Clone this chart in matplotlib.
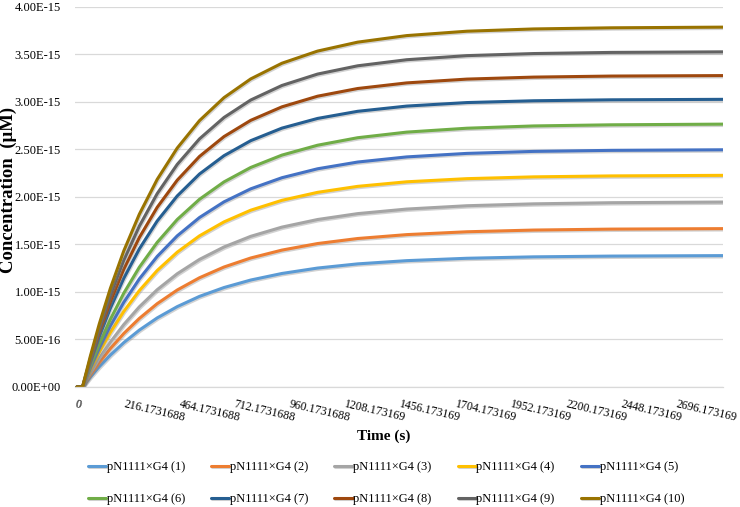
import matplotlib
matplotlib.use('Agg')
import matplotlib.pyplot as plt
import matplotlib.ticker as mtick
import matplotlib.patheffects as pe

plt.rcParams['font.family'] = ['Liberation Serif', 'DejaVu Serif']

# time points (s)
t = [0, 25, 60, 100, 150, 210, 280, 360, 450, 550, 660, 780, 920, 1080,
     1260, 1480, 1750, 2050, 2400, 2900]

# concentration, units of 1E-15 uM
s1 = [0, 0, 0.104, 0.213, 0.336, 0.467, 0.599, 0.727, 0.846, 0.954, 1.047,
      1.126, 1.195, 1.252, 1.296, 1.330, 1.355, 1.370, 1.378, 1.383]
s2 = [0, 0, 0.125, 0.256, 0.405, 0.563, 0.722, 0.877, 1.021, 1.150, 1.263,
      1.358, 1.441, 1.510, 1.563, 1.604, 1.634, 1.652, 1.662, 1.667]
s3 = [0, 0, 0.146, 0.299, 0.473, 0.657, 0.844, 1.024, 1.192, 1.343, 1.474,
      1.586, 1.683, 1.763, 1.825, 1.873, 1.908, 1.928, 1.940, 1.947]
s4 = [0, 0, 0.178, 0.365, 0.574, 0.795, 1.015, 1.226, 1.419, 1.591, 1.738,
      1.861, 1.965, 2.049, 2.112, 2.160, 2.193, 2.212, 2.222, 2.228]
s5 = [0, 0, 0.200, 0.409, 0.644, 0.891, 1.138, 1.374, 1.591, 1.784, 1.949,
      2.086, 2.203, 2.297, 2.368, 2.422, 2.459, 2.480, 2.491, 2.497]
s6 = [0, 0, 0.222, 0.453, 0.713, 0.987, 1.261, 1.522, 1.763, 1.976, 2.159,
      2.311, 2.441, 2.545, 2.624, 2.683, 2.724, 2.748, 2.760, 2.767]
s7 = [0, 0, 0.260, 0.530, 0.831, 1.144, 1.454, 1.747, 2.011, 2.242, 2.435,
      2.593, 2.725, 2.827, 2.902, 2.957, 2.994, 3.013, 3.023, 3.028]
s8 = [0, 0, 0.281, 0.574, 0.899, 1.239, 1.574, 1.891, 2.177, 2.427, 2.636,
      2.807, 2.949, 3.061, 3.142, 3.201, 3.241, 3.262, 3.273, 3.278]
s9 = [0, 0, 0.303, 0.617, 0.968, 1.333, 1.694, 2.035, 2.343, 2.612, 2.837,
      3.021, 3.174, 3.294, 3.381, 3.445, 3.488, 3.510, 3.522, 3.528]
s10 = [0, 0, 0.325, 0.663, 1.039, 1.432, 1.819, 2.185, 2.515, 2.804, 3.046,
       3.243, 3.408, 3.536, 3.630, 3.699, 3.745, 3.769, 3.781, 3.788]

series = [s1, s2, s3, s4, s5, s6, s7, s8, s9, s10]
names = ['pN1111\u00d7G4 (%d)' % i for i in range(1, 11)]
colors = ['#5B9BD5', '#ED7D31', '#A5A5A5', '#FFC000', '#4472C4',
          '#70AD47', '#255E91', '#9E480E', '#636363', '#997300']

xticks = [0, 216.1731688, 464.1731688, 712.1731688, 960.1731688,
          1208.173169, 1456.173169, 1704.173169, 1952.173169,
          2200.173169, 2448.173169, 2696.173169]
xlabels = ['0', '216.1731688', '464.1731688', '712.1731688', '960.1731688',
           '1208.173169', '1456.173169', '1704.173169', '1952.173169',
           '2200.173169', '2448.173169', '2696.173169']

fig = plt.figure(figsize=(7.4, 5.07), dpi=100)
ax = fig.add_axes([0.101, 0.2367, 0.876, 0.7495])

shadow = [pe.SimpleLineShadow(offset=(0.6, -1.0), shadow_color='#808080', alpha=0.35),
          pe.Normal()]
lines = []
for s, c, n in zip(series, colors, names):
    ln, = ax.plot(t, [v * 1e-15 for v in s], color=c, lw=2.2, label=n,
                  solid_capstyle='round', path_effects=shadow)
    lines.append(ln)

ax.set_xlim(-10, 2900)
ax.set_ylim(0, 4e-15)
ax.set_yticks([i * 0.5e-15 for i in range(9)])
ax.yaxis.set_major_formatter(mtick.FuncFormatter(lambda v, p: '%.2E' % v))
ax.grid(axis='y', color='#D9D9D9', lw=0.9)
ax.set_axisbelow(True)
for sp in ['top', 'right', 'left']:
    ax.spines[sp].set_visible(False)
ax.spines['bottom'].set_color('#D9D9D9')
ax.spines['bottom'].set_linewidth(0.9)
ax.tick_params(axis='y', length=0, labelsize=9, pad=10)
ax.tick_params(axis='x', length=0, labelsize=8.6, pad=8)

ax.set_xticks(xticks)
ax.set_xticklabels(xlabels, rotation=-13, ha='left', va='top',
                   rotation_mode='anchor')

fig.text(384 / 740, 1 - 436 / 507, 'Time (s)', ha='center', va='center',
         fontsize=11, fontweight='bold')
fig.text(8.5 / 740, 1 - 190 / 507, 'Concentration  (\u03bcM)', ha='center',
         va='center', rotation=90, fontsize=13.5, fontweight='bold')

# legend: row-major order for 2 rows x 5 columns
order = [0, 5, 1, 6, 2, 7, 3, 8, 4, 9]
fig.legend([lines[i] for i in order], [names[i] for i in order],
           loc='center', bbox_to_anchor=(386 / 740, 1 - 483 / 507), ncol=5,
           frameon=False, fontsize=9, handlelength=1.45, handletextpad=0.05,
           columnspacing=2.1, labelspacing=1.6)

plt.savefig('out.png', dpi=100)
